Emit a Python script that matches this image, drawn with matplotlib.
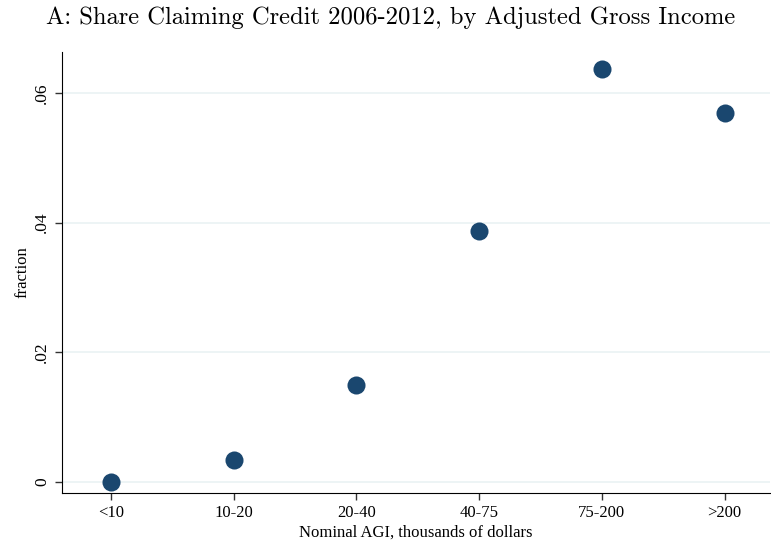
import matplotlib
matplotlib.use("Agg")
import matplotlib.pyplot as plt

categories = ["<10", "10-20", "20-40", "40-75", "75-200", ">200"]
share = [0.0000, 0.0034, 0.0150, 0.0387, 0.0637, 0.0569]
yticks = [0, 0.02, 0.04, 0.06]
ytick_labels = ["0", ".02", ".04", ".06"]

plt.rcParams["font.family"] = "Liberation Serif"

fig = plt.figure(figsize=(7.71, 5.47), dpi=100)
ax = fig.add_axes([0.0804, 0.0987, 0.9183, 0.8062])

xs = list(range(1, len(categories) + 1))
ax.plot(xs, share, "o", color="#1a476f", markersize=13, markeredgewidth=0, zorder=3)

ax.set_xlim(0.6, 6.37)
ax.set_ylim(-0.0017, 0.0663)
ax.set_xticks(xs)
ax.set_xticklabels(categories, fontsize=12)
ax.set_yticks(yticks)
ax.set_yticklabels(ytick_labels, fontsize=12.5, rotation=90, va="center")
ax.grid(axis="y", color="#eaf2f3", linewidth=1.2, zorder=0)
ax.tick_params(length=5, width=1, color="#333333")

for s in ["top", "right"]:
    ax.spines[s].set_visible(False)

ax.set_xlabel("Nominal AGI, thousands of dollars", fontsize=12, labelpad=3)
ax.set_ylabel("fraction", fontsize=12, labelpad=3)

fig.text(0.506, 0.967, "A: Share Claiming Credit 2006-2012, by Adjusted Gross Income",
         family="cmr10", fontsize=17.7, ha="center", va="center")

fig.savefig("out.png", dpi=100)
